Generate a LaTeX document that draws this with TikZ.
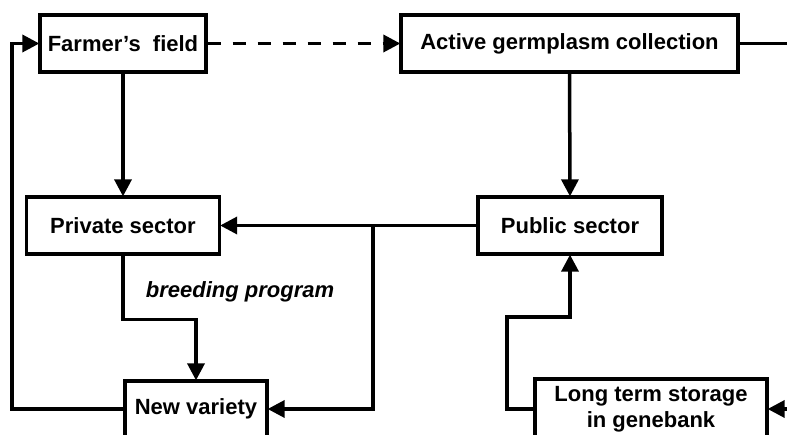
\documentclass[tikz,border=0pt]{standalone}
\usepackage{fontspec}
\setmainfont{Liberation Sans}
\usetikzlibrary{arrows.meta}
\begin{document}
\begin{tikzpicture}[x=1bp,y=-1bp,
  box/.style={draw,line width=3.3bp,inner sep=0pt,align=center,
    font=\fontsize{22bp}{26bp}\selectfont\bfseries},
  conn/.style={line width=3.5bp},
  arr/.style={conn,-{Triangle[length=17bp,width=17bp]},shorten >=-1bp},
  lbl/.style={font=\fontsize{22bp}{26bp}\selectfont\bfseries\itshape,inner sep=0pt}]
\useasboundingbox (0,0) rectangle (787,435);
\clip (0,0) rectangle (787,435);
\node[box,minimum width=166bp,minimum height=57bp] (ff) at (123,43.5) {Farmer’s\ \ field};
\node[box,minimum width=337bp,minimum height=57bp] (agc) at (569.5,43.5) {Active germplasm collection};
\node[box,minimum width=193bp,minimum height=57bp] (ps) at (123,225.5) {Private sector};
\node[box,minimum width=184bp,minimum height=57bp] (pub) at (570,225.5) {Public sector};
\node[box,minimum width=142bp,minimum height=56bp] (nv) at (196,409) {New variety};
\node[box,minimum width=232bp,minimum height=60bp] (lts) at (651,409) {Long term storage\\in genebank};
\node[lbl] (bp) at (240,292) {breeding program};
\coordinate (offR) at (800,43.5);
\coordinate (offR2) at (800,409);
\coordinate (j) at (373,225.5);
\coordinate (lx) at (12,0);
\coordinate (bx) at (507,317);
% connectors
\draw[arr,dash pattern=on 13bp off 12bp] (ff.east) -- (agc.west);
\draw[conn] (agc.east) -- (offR);
\draw[arr] (ff.south) -- (ps.north);
\draw[arr] (agc.south) -- (pub.north);
\draw[arr] (pub.west) -- (ps.east);
\draw[arr] (j) |- (nv.east);
\draw[arr] (ps.south) -- ++(0,64) -| (nv.north);
\draw[arr] (nv.west) -- (nv.west -| lx) |- (ff.west);
\draw[arr] (lts.west) -- (lts.west -| bx) -- (bx) -| (pub.south);
\draw[arr] (offR2) -- (lts.east);
\end{tikzpicture}
\end{document}
